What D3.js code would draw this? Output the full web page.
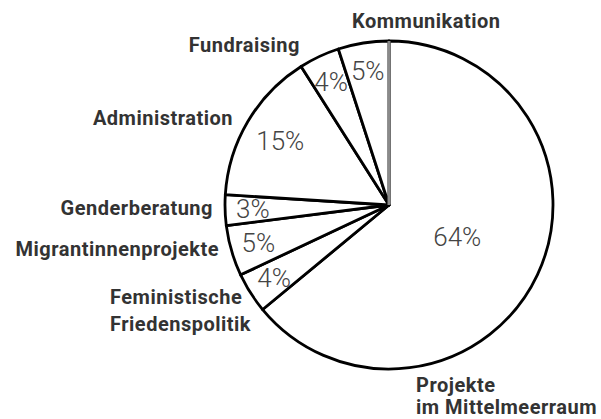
<!DOCTYPE html>
<html>
<head>
<meta charset="utf-8">
<script src="https://cdn.jsdelivr.net/npm/d3@7"></script>
<style>
  body { margin: 0; background: #fff; }
  .cat { font-family: Roboto, "Open Sans", sans-serif; font-weight: 700; font-size: 20px; letter-spacing: 0.5px; fill: #333; }
  .pct { font-family: Roboto, sans-serif; font-weight: 300; font-size: 26px; fill: #444; }
</style>
</head>
<body>
<script>
// data, clockwise from 12 o'clock
const categories = ["Projekte\nim Mittelmeerraum", "Feministische\nFriedenspolitik", "Migrantinnenprojekte",
  "Genderberatung", "Administration", "Fundraising", "Kommunikation"];
const shares = [64, 4, 5, 3, 15, 4, 5];

// label placement (text only): x, baseline y, anchor, line gap
const catLabelPos = [[416, 392, "start", 22], [110, 304, "start", 27], [219, 256, "end", 0], [213, 215, "end", 0],
  [233, 125, "end", 0], [300, 52, "end", 0], [352, 28, "start", 0]];

function main(){
  let W = 601, H = 419;
  let cx = 389, cy = 205, R = 164;

  let svg = d3.select("body").append("svg").attr("width", W).attr("height", H);
  let g = svg.append("g").attr("transform", "translate(" + cx + "," + cy + ")");

  let pie = d3.pie().sort(null).value(d => d)(shares);
  let arc = d3.arc().innerRadius(0).outerRadius(R);

  g.selectAll("path.slice").data(pie).enter().append("path")
    .attr("class", "slice")
    .attr("d", arc)
    .attr("fill", "#fff")
    .attr("stroke", "#000")
    .attr("stroke-width", 2.8)
    .attr("stroke-linejoin", "round");

  // gray radial line at 12 o'clock
  g.append("line")
    .attr("x1", 0).attr("y1", 0)
    .attr("x2", 0).attr("y2", -R)
    .attr("stroke", "#8a8a8a")
    .attr("stroke-width", 3);

  // percentage labels
  g.selectAll("text.pct").data(pie).enter().append("text")
    .attr("class", "pct")
    .attr("text-anchor", "middle")
    .attr("dy", "0.35em")
    .attr("transform", d => {
      let r = d.data > 50 ? 0.46 * R : (d.data > 10 ? 0.77 * R : 0.83 * R);
      let c = d3.arc().innerRadius(r).outerRadius(r).centroid(d);
      return "translate(" + c[0] + "," + c[1] + ")";
    })
    .text(d => d.data + "%");

  // category labels
  categories.forEach((c, i) => {
    let p = catLabelPos[i];
    let t = svg.append("text").attr("class", "cat")
      .attr("x", p[0]).attr("y", p[1]).attr("text-anchor", p[2]);
    c.split("\n").forEach((line, j) => {
      t.append("tspan").attr("x", p[0]).attr("dy", j === 0 ? 0 : p[3]).text(line);
    });
  });
}
main();
</script>
</body>
</html>
